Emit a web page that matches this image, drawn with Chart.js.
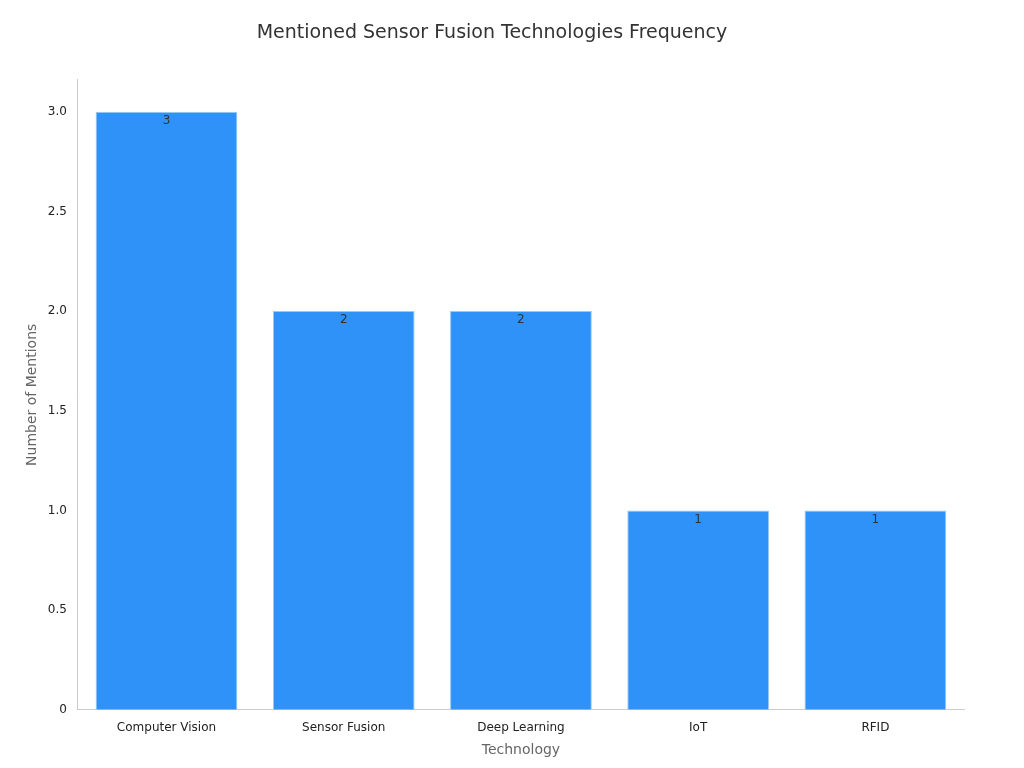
<!DOCTYPE html>
<html><head><script src="https://cdn.jsdelivr.net/npm/chart.js@4"></script>
<style>body{margin:0;background:#fff}#w{width:1024px;height:768px}</style></head>
<body><div id="w"><canvas id="c"></canvas></div>
<script>
const categories=["Computer Vision","Sensor Fusion","Deep Learning","IoT","RFID"];
const mentions=[3,2,2,1,1];
const labelPlugin={id:'vl',afterDatasetsDraw(ch){const ctx=ch.ctx;const m=ch.getDatasetMeta(0);ctx.save();ctx.font='12px "DejaVu Sans"';ctx.fillStyle='#333';ctx.textAlign='center';ctx.textBaseline='top';m.data.forEach((b,i)=>ctx.fillText(mentions[i],b.x,b.y+3));ctx.restore();}};
new Chart(document.getElementById('c'),{type:'bar',
data:{labels:categories,datasets:[{data:mentions,backgroundColor:'#2f92f8',borderColor:'#9cc8f5',borderWidth:1,barPercentage:0.8,categoryPercentage:1}]},
options:{responsive:true,maintainAspectRatio:false,animation:false,
layout:{padding:{left:20,right:60,top:10,bottom:5}},
plugins:{legend:{display:false},tooltip:{enabled:false},
title:{display:true,text:'Mentioned Sensor Fusion Technologies Frequency',color:'#333',font:{family:'DejaVu Sans',size:19,weight:'normal'},padding:{top:12,bottom:35}}},
scales:{
x:{grid:{display:false,drawTicks:true},border:{color:'#ccc'},ticks:{color:'#222',font:{family:'DejaVu Sans',size:12}},
title:{display:true,text:'Technology',color:'#666',font:{family:'DejaVu Sans',size:14}}},
y:{min:0,max:3.16,grid:{display:false},border:{color:'#ccc'},afterBuildTicks:s=>{s.ticks=s.ticks.filter(t=>Math.abs(t.value*2-Math.round(t.value*2))<1e-6);},
ticks:{stepSize:0.5,color:'#222',font:{family:'DejaVu Sans',size:12}},
title:{display:true,text:'Number of Mentions',color:'#666',font:{family:'DejaVu Sans',size:14}}}}},
plugins:[labelPlugin]});
</script></body></html>
